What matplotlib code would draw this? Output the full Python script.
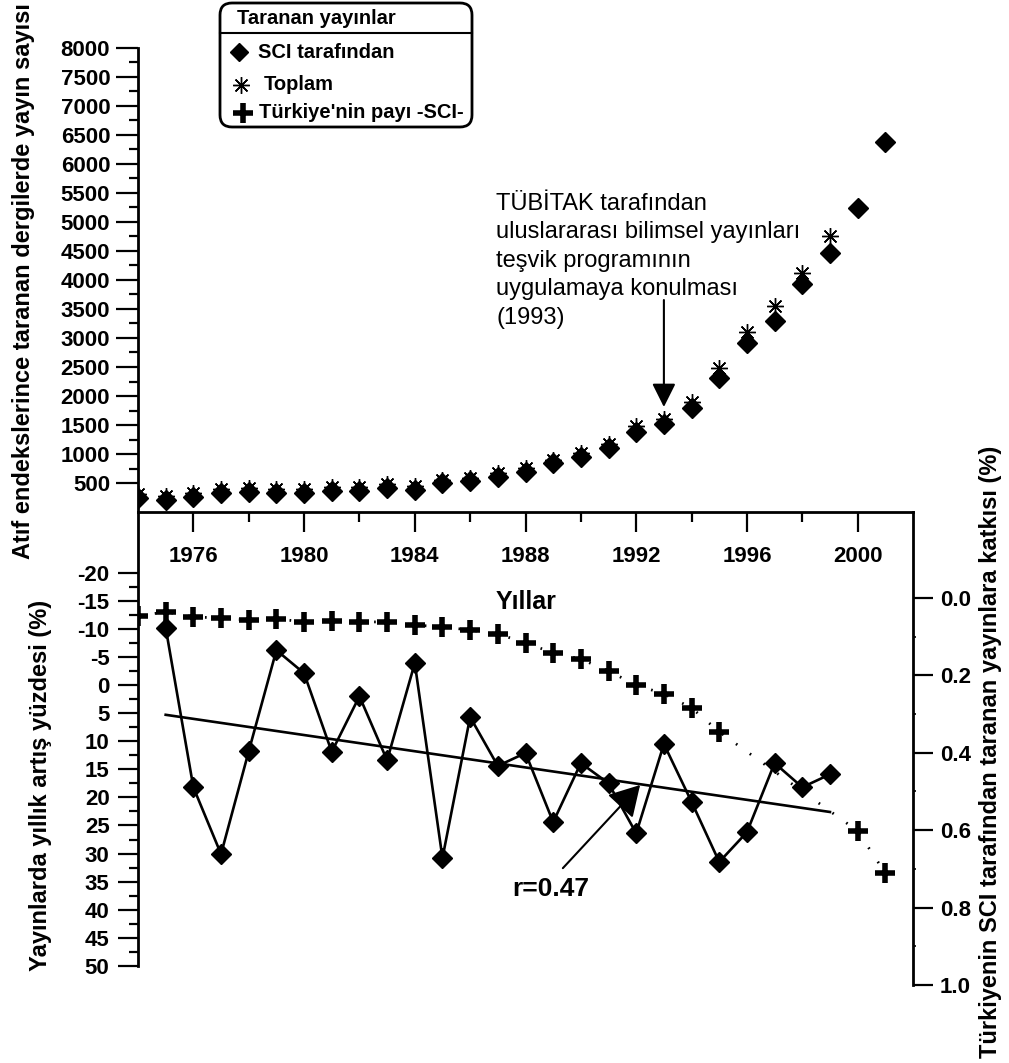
import matplotlib
matplotlib.use('Agg')
import matplotlib.pyplot as plt
from matplotlib.patches import FancyBboxPatch
from matplotlib.lines import Line2D
from matplotlib.transforms import IdentityTransform

plt.rcParams['font.family'] = ['Liberation Sans', 'DejaVu Sans']
plt.rcParams['font.weight'] = 'bold'
plt.rcParams['axes.unicode_minus'] = False

# ---------------- data ----------------
years_sci = list(range(1974, 2002))
sci = [240, 206, 257, 326, 343, 326, 326, 360, 360, 412, 378, 498, 532, 600,
       687, 841, 944, 1099, 1373, 1510, 1785, 2318, 2918, 3296, 3931, 4464,
       5236, 6386]
years_total = list(range(1974, 2000))
total = [310, 275, 325, 395, 410, 395, 395, 425, 425, 475, 445, 560, 590, 665,
         755, 900, 1010, 1170, 1490, 1610, 1900, 2480, 3100, 3550, 4120, 4755]

growth_years = list(range(1975, 2000))
growth = [-10.2, 18.2, 30.1, 11.8, -6.2, -2.1, 11.9, 2.0, 13.4, -3.9, 30.8,
          5.7, 14.4, 12.1, 24.4, 13.9, 17.5, 26.4, 10.5, 20.8, 31.5, 26.2,
          13.9, 18.2, 15.9]

trend_years = [1975, 1999]
trend_vals = [5.3, 22.6]

share_years = list(range(1974, 1996)) + [2000, 2001]
share = [0.047, 0.036, 0.049, 0.052, 0.057, 0.054, 0.062, 0.059, 0.062, 0.062,
         0.070, 0.075, 0.083, 0.093, 0.116, 0.142, 0.158, 0.189, 0.225, 0.248,
         0.284, 0.346, 0.602, 0.711]

year_major = [1976, 1980, 1984, 1988, 1992, 1996, 2000]
year_minor = [1978, 1982, 1986, 1990, 1994, 1998]
count_major = list(range(500, 8001, 500))
count_minor = list(range(750, 8000, 500))
growth_major = list(range(-20, 51, 5))
growth_minor = [g + 2.5 for g in range(-20, 50, 5)]
share_major = [0.0, 0.2, 0.4, 0.6, 0.8, 1.0]
share_minor = [0.1, 0.3, 0.5, 0.7, 0.9]

# ---------------- layout ----------------
W, H = 1009, 1063
fig = plt.figure(figsize=(W / 100, H / 100), dpi=100)


def fx(px):
    return px / W


def fy(py):
    return 1 - py / H


X0, X1 = 138, 913
FS = 16
LFS = 17
SPW = 2.0

ax1 = fig.add_axes([fx(X0), fy(512), (X1 - X0) / W, (512 - 48) / H])
ax1.patch.set_alpha(0)
ax1.set_xlim(1974, 2002)
ax1.set_ylim(0, 8000)
for s in ['top', 'right']:
    ax1.spines[s].set_visible(False)
for s in ['left', 'bottom']:
    ax1.spines[s].set_linewidth(SPW)
ax1.set_xticks(year_major)
ax1.set_xticks(year_minor, minor=True)
ax1.set_yticks(count_major)
ax1.set_yticks(count_minor, minor=True)
ax1.tick_params(axis='both', which='major', direction='out', width=1.6,
                labelsize=FS)
ax1.tick_params(axis='x', which='major', length=14.5, pad=10)
ax1.tick_params(axis='x', which='minor', length=7, width=1.6)
ax1.tick_params(axis='y', which='major', length=16, pad=4)
ax1.tick_params(axis='y', which='minor', length=6.5, width=1.6)

ax1.plot(years_total, total, linestyle='none', marker=(8, 2, 0), ms=12,
         mew=1.0, color='black', zorder=3)
ax1.plot(years_sci, sci, linestyle='none', marker='D', ms=10, color='black',
         zorder=4)

ax1.annotate('', xy=(1993, 1810), xytext=(1993, 3655),
             arrowprops=dict(arrowstyle='-|>,head_length=1.0,head_width=0.5',
                             mutation_scale=14.4, lw=1.5, color='black',
                             shrinkA=0, shrinkB=0))
fig.text(fx(496), fy(193),
         'TÜBİTAK tarafından\nuluslararası bilimsel yayınları\n'
         'teşvik programının\nuygulamaya konulması\n(1993)',
         ha='left', va='top', fontsize=17, fontweight='normal',
         linespacing=1.38)

# lower panel
ax2 = fig.add_axes([fx(X0), fy(985), (X1 - X0) / W, (985 - 512) / H])
ax2.patch.set_alpha(0)
ax2.set_xlim(1974, 2002)
ax2.set_ylim(53.4, -30.8)
for s in ['top', 'right', 'bottom']:
    ax2.spines[s].set_visible(False)
ax2.spines['left'].set_linewidth(SPW)
ax2.spines['left'].set_bounds(-30.8, 50)
ax2.tick_params(axis='x', bottom=False, labelbottom=False)
ax2.set_yticks(growth_major)
ax2.set_yticks(growth_minor, minor=True)
ax2.tick_params(axis='y', which='major', direction='out', length=14.5,
                width=1.6, labelsize=FS, pad=6)
ax2.tick_params(axis='y', which='minor', direction='out', length=6.5,
                width=1.6)

ax2.plot(growth_years, growth, color='black', lw=1.9, marker='D', ms=10,
         zorder=4)
ax2.plot(trend_years, trend_vals, color='black', lw=1.9, zorder=3)
ax2.annotate('', xy=(1992.14, 17.8), xytext=(1989.35, 32.6),
             arrowprops=dict(arrowstyle='-|>,head_length=1.3,head_width=0.75',
                             mutation_scale=14.4, lw=1.5, color='black',
                             shrinkA=0, shrinkB=0))

ax3 = ax2.twinx()
ax3.set_ylim(1.0, -0.222)
for s in ['top', 'left', 'bottom']:
    ax3.spines[s].set_visible(False)
ax3.spines['right'].set_linewidth(SPW)
ax3.set_yticks(share_major)
ax3.set_yticks(share_minor, minor=True)
ax3.set_yticklabels(['%.1f' % v for v in share_major])
ax3.tick_params(axis='y', which='major', direction='out', length=14.5,
                width=1.6, labelsize=FS, pad=5)
ax3.tick_params(axis='y', which='minor', direction='out', length=2.5,
                width=1.2)
ax3.plot(share_years, share, color='black', lw=2.0,
         linestyle=(0, (0.6, 5.5)), marker='+', ms=14, mew=4.0, zorder=5)

# texts
fig.text(fx(526), fy(602), 'Yıllar', ha='center', va='center', fontsize=18)
fig.text(fx(551), fy(889), 'r=0.47', ha='center', va='center', fontsize=19)
fig.text(fx(24), fy(281), 'Atıf endekslerince taranan dergilerde yayın sayısı',
         rotation=90, ha='center', va='center', fontsize=LFS)
fig.text(fx(41), fy(785), 'Yayınlarda yıllık artış yüzdesi (%)',
         rotation=90, ha='center', va='center', fontsize=LFS)
fig.text(fx(991), fy(752),
         'Türkiyenin SCI tarafından taranan yayınlara katkısı (%)',
         rotation=90, ha='center', va='center', fontsize=LFS)

# legend (drawn manually)
BX0, BX1 = 220, 472
idt = IdentityTransform()
box = FancyBboxPatch((BX0, H - 127), BX1 - BX0, 124,
                     boxstyle='round,pad=0,rounding_size=12',
                     transform=idt, fill=False, lw=2, ec='black')
fig.add_artist(box)
fig.add_artist(Line2D([BX0, BX1], [H - 33, H - 33], transform=idt,
                      color='black', lw=1.5))
fig.text(fx(237), fy(18), 'Taranan yayınlar', ha='left', va='center',
         fontsize=14.5)
fig.add_artist(Line2D([239], [H - 52], transform=idt, marker='D', ms=9.5,
                      color='black', linestyle='none'))
fig.text(fx(258), fy(52), 'SCI tarafından', ha='left', va='center',
         fontsize=14.5)
fig.add_artist(Line2D([241], [H - 85], transform=idt, marker=(8, 2, 0),
                      ms=12, mew=1.0, color='black', linestyle='none'))
fig.text(fx(264), fy(85), 'Toplam', ha='left', va='center', fontsize=14.5)
fig.add_artist(Line2D([243], [H - 113], transform=idt, marker='+', ms=14,
                      mew=4.0, color='black', linestyle='none'))
fig.text(fx(259), fy(113), "Türkiye'nin payı -SCI-", ha='left', va='center',
         fontsize=14.5)

fig.savefig('out.png', dpi=100)
